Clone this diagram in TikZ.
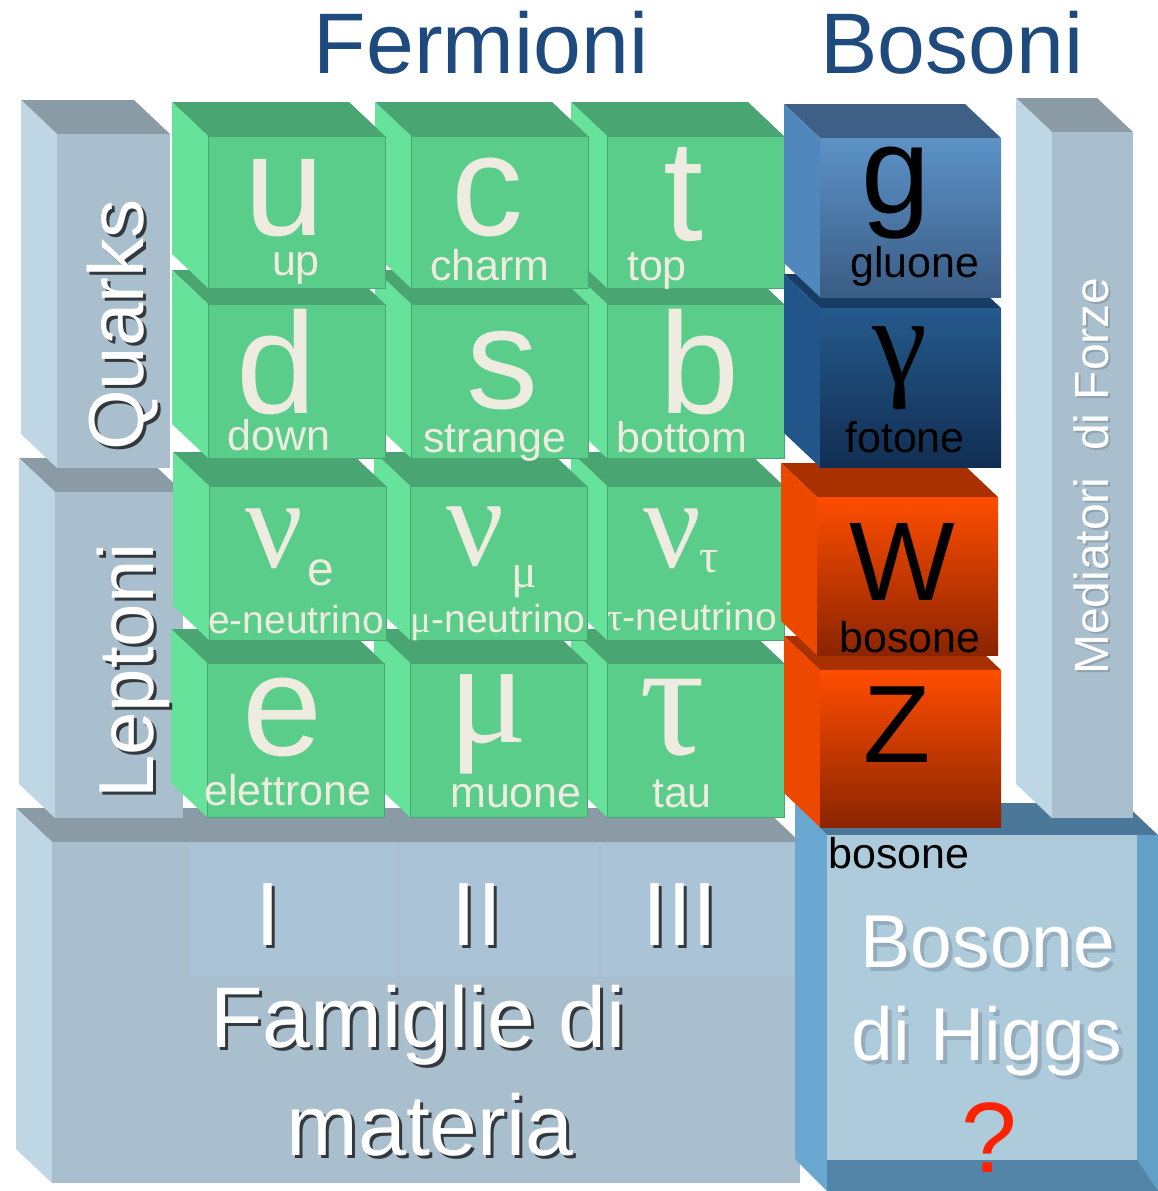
\documentclass[tikz,border=0pt]{standalone}
\usepackage{fontspec}
\setmainfont{Liberation Sans}
\newfontfamily\grk{Liberation Serif}
\usepackage{tikz}

\definecolor{verdeF}{HTML}{5BCD8A}
\definecolor{verdeT}{HTML}{49A672}
\definecolor{verdeL}{HTML}{66E29B}
\definecolor{grigioF}{HTML}{AABFCD}
\definecolor{grigioT}{HTML}{8A9BA6}
\definecolor{grigioL}{HTML}{BFD6E4}
\definecolor{famiglia}{HTML}{ABC3D7}
\definecolor{crema}{HTML}{EEEBE0}
\definecolor{titolo}{HTML}{1F4A7E}
\definecolor{higgsI}{HTML}{AECBDC}
\definecolor{higgsT}{HTML}{4B7898}
\definecolor{higgsL}{HTML}{6AA8D2}
\definecolor{higgsR}{HTML}{62A0C8}
\definecolor{higgsB}{HTML}{5285A8}
\definecolor{rosso}{HTML}{FF2200}

% blocco in prospettiva: x, y (angolo del fronte), larghezza, altezza, stile
\newcommand{\cubo}[5]{%
  \path[#5 top] (#1-36,#2-34) -- (#1+#3-36,#2-34) -- (#1+#3,#2) -- (#1,#2) -- cycle;
  \path[#5 left] (#1-36,#2-34) -- (#1,#2) -- (#1,#2+#4) -- (#1-36,#2+#4-34) -- cycle;
  \path[#5 front] (#1,#2) rectangle ++(#3,#4);
}

\begin{document}
\begin{tikzpicture}[
    x=0.5pt, y=-0.5pt,
    verde top/.style={fill=verdeT},
    verde left/.style={fill=verdeL},
    verde front/.style={fill=verdeF, draw=verdeT, line width=0.4pt},
    grigio top/.style={fill=grigioT},
    grigio left/.style={fill=grigioL},
    grigio front/.style={fill=grigioF},
    gluone top/.style={fill={rgb,255:red,62;green,95;blue,134}},
    gluone left/.style={fill={rgb,255:red,80;green,136;blue,190}},
    gluone front/.style={top color={rgb,255:red,92;green,146;blue,198}, bottom color={rgb,255:red,58;green,92;blue,133}},
    fotone top/.style={fill={rgb,255:red,24;green,61;blue,100}},
    fotone left/.style={fill={rgb,255:red,34;green,86;blue,138}},
    fotone front/.style={top color={rgb,255:red,37;green,90;blue,140}, bottom color={rgb,255:red,17;green,46;blue,82}},
    debole top/.style={fill={rgb,255:red,169;green,49;blue,0}},
    debole left/.style={fill={rgb,255:red,236;green,72;blue,0}},
    debole front/.style={top color={rgb,255:red,255;green,77;blue,0}, bottom color={rgb,255:red,139;green,36;blue,0}},
    simbolo/.style={font=\fontsize{72}{72}\selectfont, text=crema, inner sep=0pt, anchor=base},
    greco/.style={font=\grk\fontsize{64}{64}\selectfont, text=crema, inner sep=0pt, anchor=base},
    pedice/.style={font=\fontsize{24}{24}\selectfont, text=crema, inner sep=0pt, anchor=base},
    nome/.style={font=\fontsize{21.5}{22}\selectfont, text=crema, inner sep=0pt, anchor=base},
    bosone/.style={font=\fontsize{21.5}{22}\selectfont, text=black, inner sep=0pt, anchor=base},
    grande/.style={text=white, inner sep=0pt, anchor=base},
    ombra/.style={text=black, opacity=0.7, inner sep=0pt, anchor=base},
    ombrachiara/.style={text=black, opacity=0.15, inner sep=0pt, anchor=base},
    titolo/.style={font=\fontsize{43}{43}\selectfont, text=titolo, inner sep=0pt, anchor=base}
]
\useasboundingbox (0,0) rectangle (1158,1191);

% base: famiglie di materia
\cubo{52}{842}{748}{341}{grigio}
\fill[famiglia] (190,845) rectangle (396,977);
\fill[famiglia] (400,845) rectangle (598,977);
\fill[famiglia] (602,845) rectangle (800,977);

% bosone di Higgs
\fill[higgsT] (795,803) -- (1124,803) -- (1158,835) -- (827,835) -- cycle;
\fill[higgsL] (795,803) -- (827,835) -- (827,1191) -- (795,1159) -- cycle;
\fill[higgsR] (827,835) rectangle (1158,1191);
\fill[higgsB] (827,1160) -- (1137,1160) -- (1158,1191) -- (827,1191) -- cycle;
\fill[higgsI] (827,835) rectangle (1137,1160);

% leptoni e quarks
\cubo{55}{492}{128}{326}{grigio}
\cubo{57}{134}{113}{334}{grigio}

% fermioni, dal basso verso l'alto
\cubo{607}{663}{177}{154}{verde}
\cubo{410}{663}{177}{154}{verde}
\cubo{207}{663}{177}{154}{verde}
\cubo{607}{486}{177}{154}{verde}
\cubo{410}{486}{177}{154}{verde}
\cubo{209}{486}{177}{154}{verde}
\cubo{607}{304}{177}{154}{verde}
\cubo{411}{304}{177}{154}{verde}
\cubo{208}{304}{177}{154}{verde}
\cubo{607}{136}{177}{152}{verde}
\cubo{411}{136}{177}{152}{verde}
\cubo{208}{136}{177}{152}{verde}

% bosoni
\cubo{820}{670}{181}{157}{debole}
\cubo{817}{497}{181}{158}{debole}
\cubo{820}{308}{181}{159}{fotone}
\cubo{820}{138}{181}{159}{gluone}

% mediatori
\cubo{1052}{132}{81}{686}{grigio}

% titoli
\node[titolo] (fermioni) at (481,73) {Fermioni};
\node[titolo] (bosoni) at (952,73) {Bosoni};

% quarks
\node[simbolo] (u) at (285,235) {u};
\node[nome] (up) at (296,275) {up};
\node[simbolo] (c) at (487,235) {c};
\node[nome] (charm) at (490,280) {charm};
\node[simbolo] (t) at (684,240) {t};
\node[nome] (top) at (657,280) {top};
\node[simbolo] (d) at (277,413) {d};
\node[nome] (down) at (279,450) {down};
\node[simbolo] (s) at (502,408) {s};
\node[nome] (strange) at (495,452) {strange};
\node[simbolo] (b) at (700,413) {b};
\node[nome] (bottom) at (682,452) {bottom};

% leptoni
\node[greco] (nue) at (274,567) {ν};
\node[pedice] (nue-e) at (321,585) {e};
\node[nome, font=\fontsize{19.5}{20}\selectfont] (enu) at (296,633) {e-neutrino};
\node[greco] (numu) at (475,565) {ν};
\node[pedice, font=\grk\fontsize{24}{24}\selectfont] (numu-mu) at (524,587) {μ};
\node[nome, font=\fontsize{19.5}{20}\selectfont] (munu) at (498,632) {{\grk μ}-neutrino};
\node[greco] (nutau) at (672,567) {ν};
\node[pedice, font=\grk\fontsize{24}{24}\selectfont] (nutau-tau) at (709,572) {τ};
\node[nome, font=\fontsize{19.5}{20}\selectfont] (taunu) at (692,630) {{\grk τ}-neutrino};
\node[simbolo] (e) at (283,755) {e};
\node[nome] (elettrone) at (288,805) {elettrone};
\node[greco, font=\grk\fontsize{74}{74}\selectfont] (mu) at (488,742) {μ};
\node[nome] (muone) at (516,807) {muone};
\node[greco, font=\grk\fontsize{82}{82}\selectfont] (tau) at (672,754) {τ};
\node[nome] (taul) at (682,807) {tau};

% bosoni: simboli
\node[simbolo, text=black, font=\fontsize{62}{62}\selectfont] (g) at (896,213) {g};
\node[bosone] (gluone) at (915,277) {gluone};
\node[greco, text=black, font=\grk\fontsize{62}{62}\selectfont] (gamma) at (900,383) {γ};
\node[bosone] (fotone) at (905,452) {fotone};
\node[simbolo, text=black, font=\fontsize{56}{56}\selectfont] (W) at (902,600) {W};
\node[bosone] (bosoneW) at (910,652) {bosone};
\node[simbolo, text=black, font=\fontsize{55}{55}\selectfont] (Z) at (897,762) {Z};
\node[bosone, anchor=base west] (bosoneZ) at (828,868) {bosone};

% etichette con ombra
\node[ombra, font=\fontsize{39}{39}\selectfont, rotate=90] at (146,328) {Quarks};
\node[grande, font=\fontsize{39}{39}\selectfont, rotate=90] (quarks) at (143,325) {Quarks};
\node[ombra, font=\fontsize{39}{39}\selectfont, rotate=90] at (156,674) {Leptoni};
\node[grande, font=\fontsize{39}{39}\selectfont, rotate=90] (leptoni) at (153,671) {Leptoni};
\node[ombrachiara, font=\fontsize{24}{24}\selectfont, rotate=90] at (1110,478) {Mediatori~~di Forze};
\node[grande, font=\fontsize{24}{24}\selectfont, rotate=90] (mediatori) at (1108,476) {Mediatori~~di Forze};

\node[ombra, font=\fontsize{45}{45}\selectfont] at (271,948) {I};
\node[grande, font=\fontsize{45}{45}\selectfont] (I) at (268,945) {I};
\node[ombra, font=\fontsize{45}{45}\selectfont] at (480,948) {II};
\node[grande, font=\fontsize{45}{45}\selectfont] (II) at (477,945) {II};
\node[ombra, font=\fontsize{45}{45}\selectfont] at (683,948) {III};
\node[grande, font=\fontsize{45}{45}\selectfont] (III) at (680,945) {III};

\node[ombra, font=\fontsize{43}{43}\selectfont] at (421,1050) {Famiglie di};
\node[grande, font=\fontsize{43}{43}\selectfont] (famiglie) at (418,1047) {Famiglie di};
\node[ombra, font=\fontsize{43}{43}\selectfont] at (433,1158) {materia};
\node[grande, font=\fontsize{43}{43}\selectfont] (materia) at (430,1155) {materia};

\node[ombrachiara, font=\fontsize{37.5}{38}\selectfont] at (992,971) {Bosone};
\node[grande, font=\fontsize{37.5}{38}\selectfont] (bosoneH) at (988,967) {Bosone};
\node[ombrachiara, font=\fontsize{37.5}{38}\selectfont] at (991,1064) {di Higgs};
\node[grande, font=\fontsize{37.5}{38}\selectfont] (higgs) at (987,1060) {di Higgs};
\node[grande, text=rosso, font=\fontsize{50}{50}\selectfont] (domanda) at (989,1172) {?};

\end{tikzpicture}
\end{document}
